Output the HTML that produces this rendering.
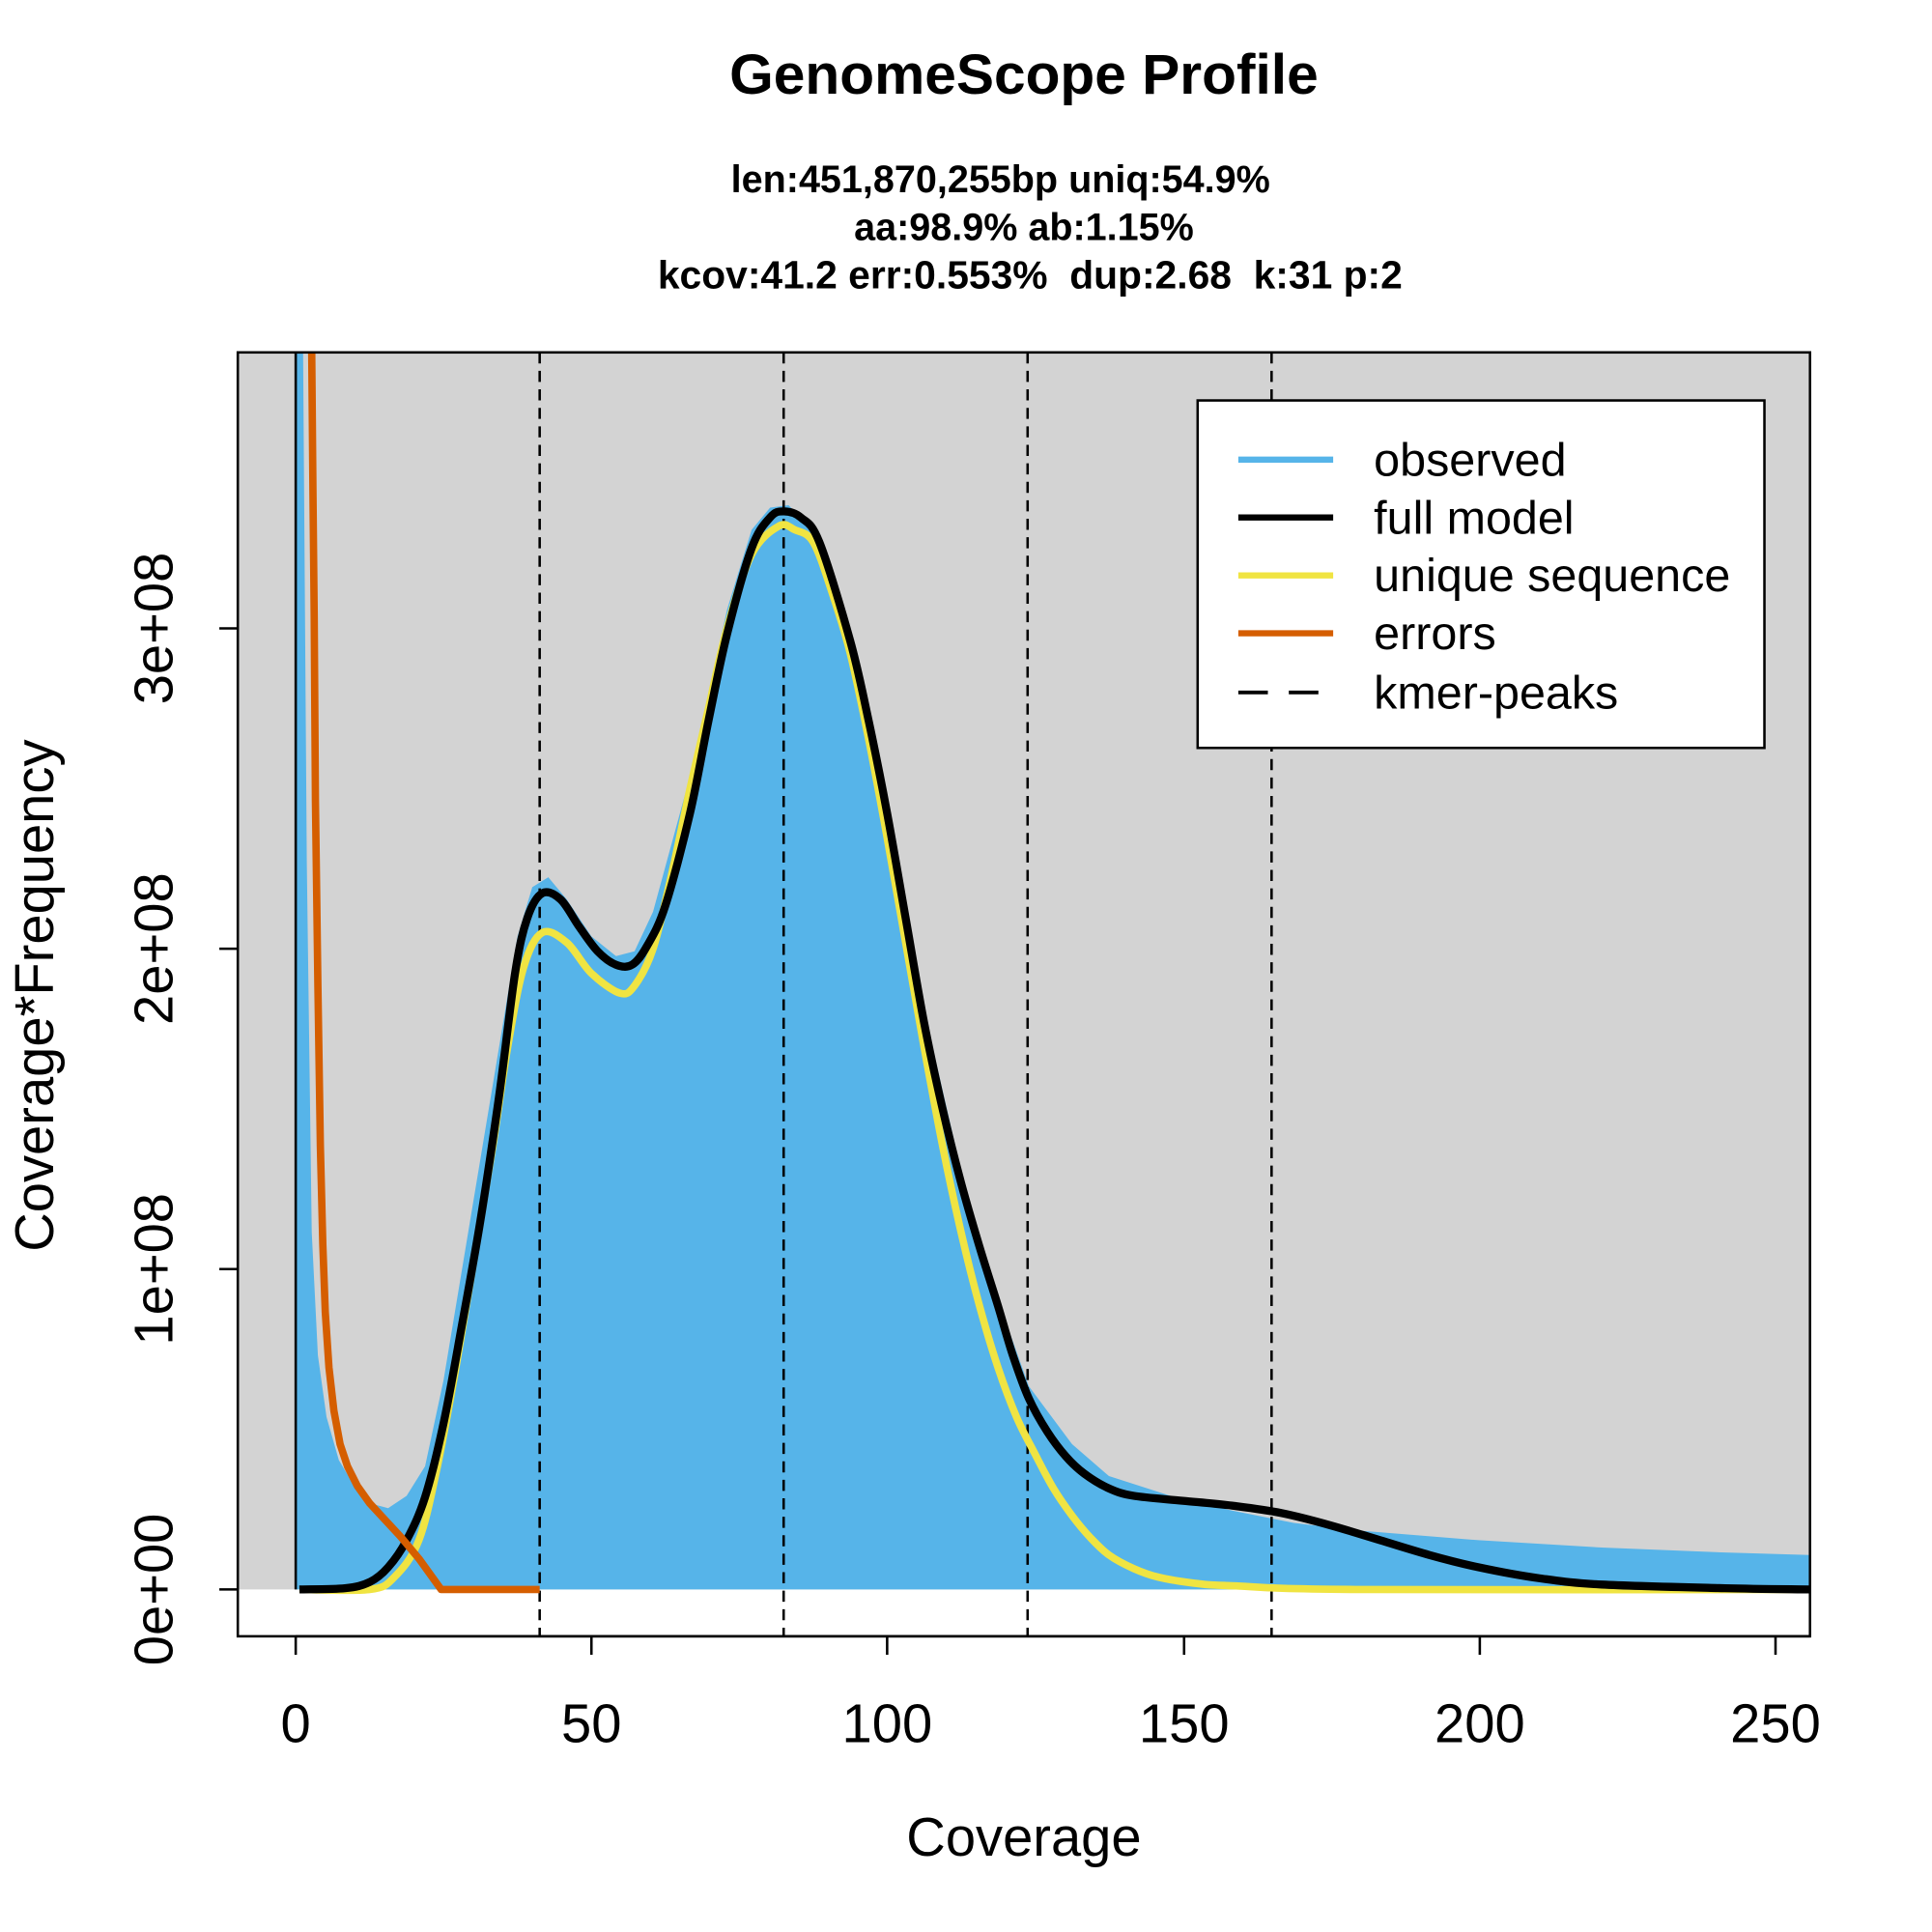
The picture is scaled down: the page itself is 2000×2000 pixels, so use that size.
<!DOCTYPE html>
<html><head><meta charset="utf-8"><style>
html,body{margin:0;padding:0;background:#fff;}
svg{display:block;}
text{font-family:"Liberation Sans",Arial,sans-serif;fill:#000;white-space:pre;}
</style></head><body>
<svg width="2000" height="2000" viewBox="0 0 1568 1568" xmlns="http://www.w3.org/2000/svg">
<rect x="0" y="0" width="1568" height="1568" fill="#fff"/>
<text x="831" y="76" font-size="46" font-weight="bold" text-anchor="middle">GenomeScope Profile</text>
<text x="812" y="156" font-size="31" font-weight="bold" text-anchor="middle">len:451,870,255bp uniq:54.9%</text>
<text x="831" y="195" font-size="31" font-weight="bold" text-anchor="middle">aa:98.9% ab:1.15%</text>
<text x="836" y="234" font-size="32" font-weight="bold" text-anchor="middle" xml:space="preserve">kcov:41.2 err:0.553%  dup:2.68  k:31 p:2</text>

<clipPath id="pc"><rect x="193" y="286" width="1276" height="1042"/></clipPath>
<rect x="193" y="286" width="1276" height="1004" fill="#d3d3d3"/>
<g clip-path="url(#pc)">
<polygon fill="#56b4e9" points="240,1290 240,286 246,286 249,700 253,1000 258,1100 265,1150 275,1185 290,1210 300,1220 315,1224 330,1214 345,1190 360,1120 380,1000 400,880 420,760 432,720 445,712 460,730 480,760 500,776 515,772 530,740 560,630 590,495 610,430 625,412 640,410 655,425 690,515 720,650 750,820 780,950 810,1055 835,1125 870,1172 900,1198 950,1214 1000,1226 1050,1236 1100,1242 1200,1250 1300,1256 1400,1260 1469,1262 1469,1290"/>
<g stroke="#000" stroke-width="2" stroke-dasharray="9,6">
<line x1="438" y1="286" x2="438" y2="1328"/>
<line x1="636" y1="286" x2="636" y2="1328"/>
<line x1="834" y1="286" x2="834" y2="1328"/>
<line x1="1032" y1="286" x2="1032" y2="1328"/>
</g>
<polyline class="sm" fill="none" stroke="#f0e442" stroke-width="6" stroke-linejoin="round" points="243,1290 300,1290 320,1280 340,1250 355,1190 370,1110 385,1020 400,930 412,850 425,785 440,757 460,765 480,790 503,806 515,800 530,770 545,710 560,640 575,575 590,510 610,450 632,427 645,430 660,440 675,480 690,530 705,600 720,680 735,765 750,850 765,930 780,1000 795,1060 810,1110 825,1150 840,1180 855,1208 870,1230 885,1248 900,1262 920,1273 940,1280 970,1285 1000,1287 1100,1290 1469,1290"/>
<polyline class="sm" fill="none" stroke="#000" stroke-width="6.5" stroke-linejoin="round" points="243,1290 280,1289 300,1284 315,1272 330,1250 345,1215 360,1155 375,1075 390,990 405,890 418,790 428,745 440,725 455,730 470,752 485,772 500,783 513,783 525,768 540,735 560,660 575,585 590,515 610,445 625,420 636,415 650,420 665,440 690,520 705,585 720,660 735,745 750,830 765,900 780,960 795,1012 810,1060 822,1100 835,1135 850,1162 865,1182 880,1196 900,1208 920,1214 960,1218 1000,1222 1040,1228 1080,1238 1120,1250 1160,1262 1200,1272 1250,1281 1300,1286 1400,1289 1469,1290"/>
<polyline fill="none" stroke="#d55e00" stroke-width="6" stroke-linejoin="round" points="253,286 254,400 255,500 256,650 258,800 260,930 262,1010 264,1065 267,1110 271,1145 276,1172 282,1190 290,1206 300,1220 312,1233 325,1247 340,1265 358,1290 438,1290"/>
</g>
<line x1="240" y1="286" x2="240" y2="1290" stroke="#000" stroke-width="2"/>
<rect x="193" y="286" width="1276" height="1042" fill="none" stroke="#000" stroke-width="2"/>

<g stroke="#000" stroke-width="2">
<line x1="240" y1="1328" x2="1469" y2="1328"/>
<line x1="240" y1="1328" x2="240" y2="1343"/>
<line x1="480" y1="1328" x2="480" y2="1343"/>
<line x1="720" y1="1328" x2="720" y2="1343"/>
<line x1="961" y1="1328" x2="961" y2="1343"/>
<line x1="1201" y1="1328" x2="1201" y2="1343"/>
<line x1="1441" y1="1328" x2="1441" y2="1343"/>
<line x1="178" y1="1290" x2="193" y2="1290"/>
<line x1="178" y1="1030" x2="193" y2="1030"/>
<line x1="178" y1="770" x2="193" y2="770"/>
<line x1="178" y1="510" x2="193" y2="510"/>
</g>
<g font-size="44" text-anchor="middle">
<text x="240" y="1414">0</text>
<text x="480" y="1414">50</text>
<text x="720" y="1414">100</text>
<text x="961" y="1414">150</text>
<text x="1201" y="1414">200</text>
<text x="1441" y="1414">250</text>
<text transform="translate(140,1290) rotate(-90)">0e+00</text>
<text transform="translate(140,1030) rotate(-90)">1e+08</text>
<text transform="translate(140,770) rotate(-90)">2e+08</text>
<text transform="translate(140,510) rotate(-90)">3e+08</text>
<text x="831" y="1506">Coverage</text>
<text transform="translate(43,808) rotate(-90)">Coverage*Frequency</text>
</g>

<rect x="972" y="325" width="460" height="282" fill="#fff" stroke="#000" stroke-width="2"/>
<g stroke-width="5">
<line x1="1005" y1="373" x2="1082" y2="373" stroke="#56b4e9"/>
<line x1="1005" y1="420" x2="1082" y2="420" stroke="#000"/>
<line x1="1005" y1="467" x2="1082" y2="467" stroke="#f0e442"/>
<line x1="1005" y1="514" x2="1082" y2="514" stroke="#d55e00"/>
<line x1="1005" y1="562" x2="1082" y2="562" stroke="#000" stroke-width="3" stroke-dasharray="24,17"/>
</g>
<g font-size="38">
<text x="1115" y="386">observed</text>
<text x="1115" y="433">full model</text>
<text x="1115" y="480">unique sequence</text>
<text x="1115" y="527">errors</text>
<text x="1115" y="575">kmer-peaks</text>
</g>
</svg>
<script>
(function(){
var ns="http://www.w3.org/2000/svg";
document.querySelectorAll("polyline.sm").forEach(function(pl){
var p=pl.getAttribute("points").trim().split(/\s+/).map(function(s){var a=s.split(",");return [+a[0],+a[1]];});
var d="M"+p[0][0]+","+p[0][1];
for(var i=0;i<p.length-1;i++){
var p0=p[i>0?i-1:i],p1=p[i],p2=p[i+1],p3=p[i+2<p.length?i+2:i+1];
var t=0.5/3;
var c1=[p1[0]+(p2[0]-p0[0])*t,p1[1]+(p2[1]-p0[1])*t];
var c2=[p2[0]-(p3[0]-p1[0])*t,p2[1]-(p3[1]-p1[1])*t];
d+=" C"+c1[0].toFixed(1)+","+c1[1].toFixed(1)+" "+c2[0].toFixed(1)+","+c2[1].toFixed(1)+" "+p2[0]+","+p2[1];
}
var path=document.createElementNS(ns,"path");
path.setAttribute("d",d);
["fill","stroke","stroke-width","stroke-linejoin"].forEach(function(a){path.setAttribute(a,pl.getAttribute(a));});
pl.parentNode.replaceChild(path,pl);
});
})();
</script>
</body></html>
